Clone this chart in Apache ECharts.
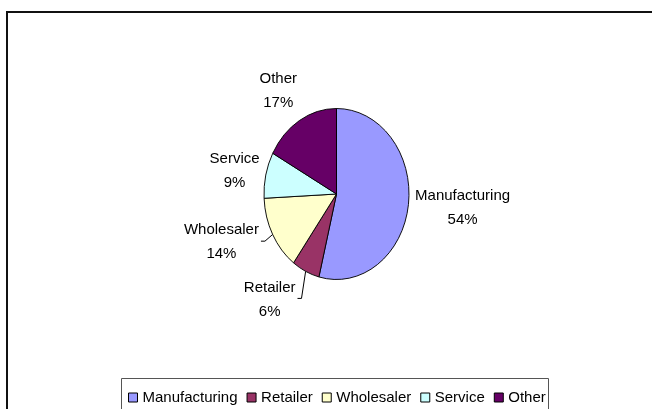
<!DOCTYPE html>
<html>
<head>
<meta charset="utf-8">
<script src="https://cdn.jsdelivr.net/npm/echarts@6/dist/echarts.min.js"></script>
<style>
html, body { margin: 0; padding: 0; background: #fff; }
#wrap { position: relative; width: 652px; height: 409px; overflow: hidden; }
#pie, #main { position: absolute; left: 0; top: 0; width: 652px; height: 409px; }
</style>
</head>
<body>
<div id="wrap"><div id="pie"></div><div id="main"></div></div>
<script>
const categories = ["Manufacturing", "Retailer", "Wholesaler", "Service", "Other"];
const shares = [53.9, 6.2, 14.1, 8.7, 17.1];
const colors = ["#9999FF", "#993366", "#FFFFCC", "#CCFFFF", "#660066"];
// the original author dragged some labels away from the pie
const labelNudge = [[0, 0], [-22, 0], [-12, -7], [0, 3], [-8, -3]];
const leaderLine = [false, true, true, false, false];

const CX = 336.5, CY = 194, RX = 72.5, RY = 85.5;
const K = RX / RY;
const FONT = "'Liberation Sans', Arial, sans-serif";

const total = shares.reduce((a, b) => a + b, 0);
function midAngle(i) {
  let s = 0;
  for (let j = 0; j < i; j++) s += shares[j];
  return (s + shares[i] / 2) / total * 2 * Math.PI;
}
function onEllipse(a, grow) {
  return [CX + (RX + grow) * Math.sin(a), CY - (RY + grow) * Math.cos(a)];
}

// pie body: drawn round, then squeezed sideways into the Excel ellipse
const pieEl = document.getElementById("pie");
pieEl.style.transformOrigin = CX + "px " + CY + "px";
pieEl.style.transform = "scaleX(" + K + ")";
const pieChart = echarts.init(pieEl, null, { renderer: "svg" });
pieChart.setOption({
  animation: false,
  series: [{
    type: "pie",
    center: [CX, CY],
    radius: RY,
    startAngle: 90,
    clockwise: true,
    silent: true,
    label: { show: false },
    labelLine: { show: false },
    itemStyle: { borderColor: "#000", borderWidth: 1 },
    data: categories.map((n, i) => ({ name: n, value: shares[i], itemStyle: { color: colors[i] } }))
  }]
});

// labels, legend and frame, unscaled
const chart = echarts.init(document.getElementById("main"));
chart.setOption({
  animation: false,
  textStyle: { fontFamily: FONT },
  graphic: [
    { type: "rect", silent: true, shape: { x: 7, y: 12, width: 700, height: 500 },
      style: { fill: "none", stroke: "#111", lineWidth: 2 } },
    { type: "rect", silent: true, shape: { x: 121.5, y: 378.5, width: 427, height: 60 },
      style: { fill: "none", stroke: "#555", lineWidth: 1 } }
  ],
  legend: {
    left: 123,
    top: 385,
    icon: "rect",
    itemWidth: 9,
    itemHeight: 9,
    itemGap: 9,
    selectedMode: false,
    textStyle: { fontSize: 15, color: "#000", fontFamily: FONT },
    data: categories.map((n, i) => ({
      name: n,
      itemStyle: { color: colors[i], borderColor: "#000", borderWidth: 1, opacity: 1 }
    }))
  },
  series: [{
    type: "pie",
    center: [CX, CY],
    radius: RY,
    startAngle: 90,
    clockwise: true,
    silent: true,
    avoidLabelOverlap: false,
    percentPrecision: 0,
    itemStyle: { color: "rgba(0,0,0,0)", borderWidth: 0 },
    label: {
      show: true,
      position: "outside",
      formatter: "{b}\n{d}%",
      fontSize: 15,
      lineHeight: 24,
      color: "#000",
      fontFamily: FONT
    },
    labelLine: { show: false, lineStyle: { color: "#000", width: 1 } },
    labelLayout: function (p) {
      const i = p.dataIndex;
      const a = midAngle(i);
      const w = p.labelRect.width, h = p.labelRect.height;
      const s = Math.sin(a), c = Math.cos(a);
      const pt = onEllipse(a, 7);
      const x = pt[0] + s * w / 2 + labelNudge[i][0];
      const y = pt[1] - c * h / 2 + labelNudge[i][1];
      const out = { x: x, y: y, align: "center", verticalAlign: "middle", hideOverlap: false };
      if (leaderLine[i]) {
        const edge = onEllipse(a, 0);
        const ex = x + w / 2 + 2, ly = y - 1;
        out.labelLinePoints = [edge, [ex + 4, ly], [ex, ly]];
      }
      return out;
    },
    data: categories.map((n, i) => ({ name: n, value: shares[i], labelLine: { show: leaderLine[i] } }))
  }]
});
</script>
</body>
</html>
